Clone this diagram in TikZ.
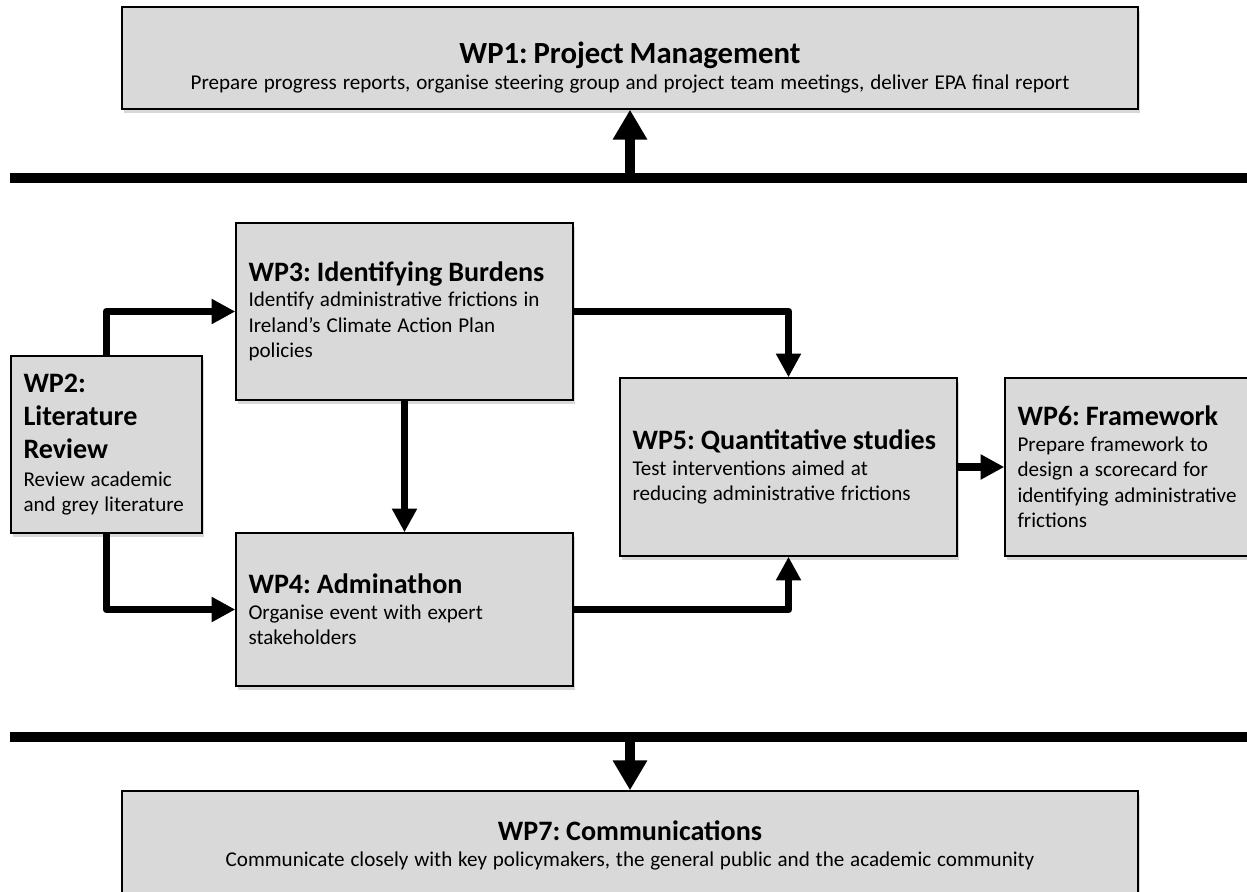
\documentclass[tikz,border=0pt]{standalone}
\usepackage{fontspec}
\setmainfont{Carlito}
\usetikzlibrary{arrows.meta,shadows}
\definecolor{boxgrey}{HTML}{D9D9D9}
\frenchspacing
\newcommand{\hd}{\fontsize{16}{19}\selectfont\bfseries}
\newcommand{\bd}{\fontsize{12}{14.5}\selectfont}
\tikzset{
	wpbox/.style={draw=black, line width=0.8pt, fill=boxgrey, inner xsep=0.25cm, inner ysep=0pt,
		align=left, drop shadow={shadow xshift=1pt, shadow yshift=-2pt, opacity=0.3}},
	flow/.style={line width=4.5pt, line join=round, -{Triangle[length=13.5pt,width=13.5pt]}},
	bar/.style={line width=5.7pt},
	busarrow/.style={line width=5.2pt, -{Triangle[length=17pt,width=18.5pt]}}
}
\begin{document}
\begin{tikzpicture}[x=0.02cm,y=-0.02cm]
	\useasboundingbox[fill=white] (0,0) rectangle (1247,892);
	\node[wpbox, align=center, minimum width=20.32cm, minimum height=2.04cm, text width=19.8cm] (wp1) at (630,58)
		{{\fontsize{17.5}{19}\selectfont\bfseries\rule{0pt}{23pt}WP1: Project Management\par}\bd Prepare progress reports, organise steering group and project team meetings, deliver EPA final report\par};
	\node[wpbox, minimum width=3.82cm, minimum height=3.54cm, text width=3.32cm] (wp2) at (106.5,444.5)
		{{\hd WP2:\\ Literature\\ Review\par}\vspace{1pt}\bd Review academic\\ and grey literature\par};
	\node[wpbox, minimum width=6.74cm, minimum height=3.54cm, text width=6.24cm] (wp3) at (404.5,311.5)
		{{\hd WP3: Identifying Burdens\par}\bd Identify administrative frictions in\\ Ireland’s Climate Action Plan\\ policies\par};
	\node[wpbox, minimum width=6.74cm, minimum height=3.06cm, text width=6.24cm] (wp4) at (404.5,609.5)
		{{\hd WP4: Adminathon\par}\bd Organise event with expert\\ stakeholders\par};
	\node[wpbox, minimum width=6.74cm, minimum height=3.56cm, text width=6.24cm] (wp5) at (788.5,467)
		{{\hd WP5: Quantitative studies\par}\bd Test interventions aimed at\\ reducing administrative frictions\par};
	\node[wpbox, minimum width=5.2cm, minimum height=3.56cm, text width=4.7cm] (wp6) at (1135,467)
		{{\hd WP6: Framework\par}\bd Prepare framework to\\ design a scorecard for\\ identifying administrative\\ frictions\par};
	\node[wpbox, align=center, minimum width=20.32cm, minimum height=2.04cm, text width=19.8cm] (wp7) at (630,842)
		{{\hd\rule{0pt}{15pt}WP7: Communications\par}\bd Communicate closely with key policymakers, the general public and the academic community\par};

	\coordinate (topL) at (10,178);
	\coordinate (topR) at (1250,178);
	\coordinate (topmid) at (630,178);
	\coordinate (botL) at (10,736.5);
	\coordinate (botR) at (1250,736.5);
	\coordinate (botmid) at (630,736.5);
	\draw[bar] (topL) -- (topR);
	\draw[bar] (botL) -- (botR);
	\draw[busarrow] (topmid) -- (wp1.south);
	\draw[busarrow] (botmid) -- (wp7.north);

	\draw[flow] (wp2.north) |- (wp3.west);
	\draw[flow] (wp2.south) |- (wp4.west);
	\draw[flow] (wp3.south) -- (wp4.north);
	\draw[flow] (wp3.east) -| (wp5.north);
	\draw[flow] (wp4.east) -| (wp5.south);
	\draw[flow] (wp5.east) -- (wp6.west);
\end{tikzpicture}
\end{document}
